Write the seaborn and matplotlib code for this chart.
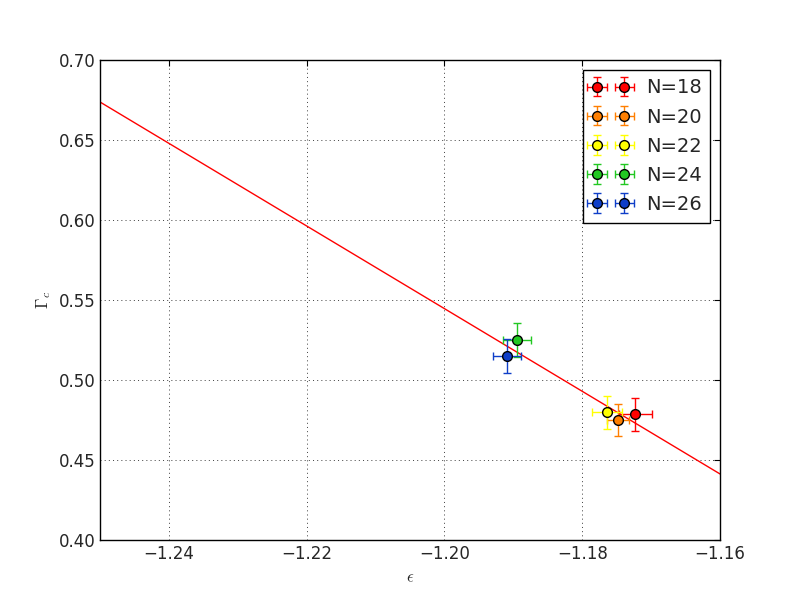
import numpy as np
import pandas as pd
import seaborn as sns
import matplotlib
matplotlib.use('Agg')
import matplotlib.pyplot as plt

labels = ['N=18', 'N=20', 'N=22', 'N=24', 'N=26']
eps = [-1.1723, -1.1748, -1.1764, -1.1895, -1.1909]
gamma = [0.4785, 0.4750, 0.4798, 0.5250, 0.5150]
eps_err = [0.0024, 0.0016, 0.0022, 0.0020, 0.0020]
gamma_err = [0.0105, 0.0100, 0.0105, 0.0104, 0.0106]
colors = ['#ff0000', '#ff7f00', '#ffff00', '#22c822', '#0f3ec8']

fit_slope = -2.583
fit_intercept = -2.5550
fit_x = [-1.25, -1.16]

sns.set_style("white")
plt.rcParams['font.family'] = ['DejaVu Sans']
plt.rcParams['mathtext.fontset'] = 'cm'
plt.rcParams['xtick.direction'] = 'in'
plt.rcParams['ytick.direction'] = 'in'
plt.rcParams['xtick.top'] = True
plt.rcParams['ytick.right'] = True

fig = plt.figure(figsize=(8, 6), dpi=100)
ax = fig.add_axes([0.125, 0.1, 0.775, 0.8])

fit_df = pd.DataFrame({'x': fit_x})
fit_df['y'] = fit_intercept + fit_slope * fit_df['x']
sns.lineplot(data=fit_df, x='x', y='y', color='red', linewidth=1, ax=ax)

for lab, x, y, xe, ye, c in zip(labels, eps, gamma, eps_err, gamma_err, colors):
    ax.errorbar(x, y, xerr=xe, yerr=ye, fmt='o', color=c, ecolor=c,
                markerfacecolor=c, markeredgecolor='black', markersize=7,
                capsize=3, elinewidth=1, label=lab)

ax.set_xlim(-1.25, -1.16)
ax.set_ylim(0.40, 0.70)
ax.set_xticks(np.arange(-1.24, -1.159, 0.02))
ax.set_yticks(np.arange(0.40, 0.701, 0.05))
ax.grid(True, color='black', linestyle=(0, (1.5, 4.5)), linewidth=0.5)
for sp in ax.spines.values():
    sp.set_color('black')
    sp.set_linewidth(1)
ax.tick_params(labelsize=12, length=4, color='black')
ax.set_xlabel(r'$\epsilon$', fontsize=12)
ax.set_ylabel(r'$\Gamma_c$', fontsize=12)

leg = ax.legend(loc='upper right', numpoints=2, fontsize=14, fancybox=False,
                framealpha=1, edgecolor='black', handletextpad=0.8,
                borderpad=0.45, labelspacing=0.52)
leg.get_frame().set_linewidth(1)

fig.savefig('out.png', dpi=100)
